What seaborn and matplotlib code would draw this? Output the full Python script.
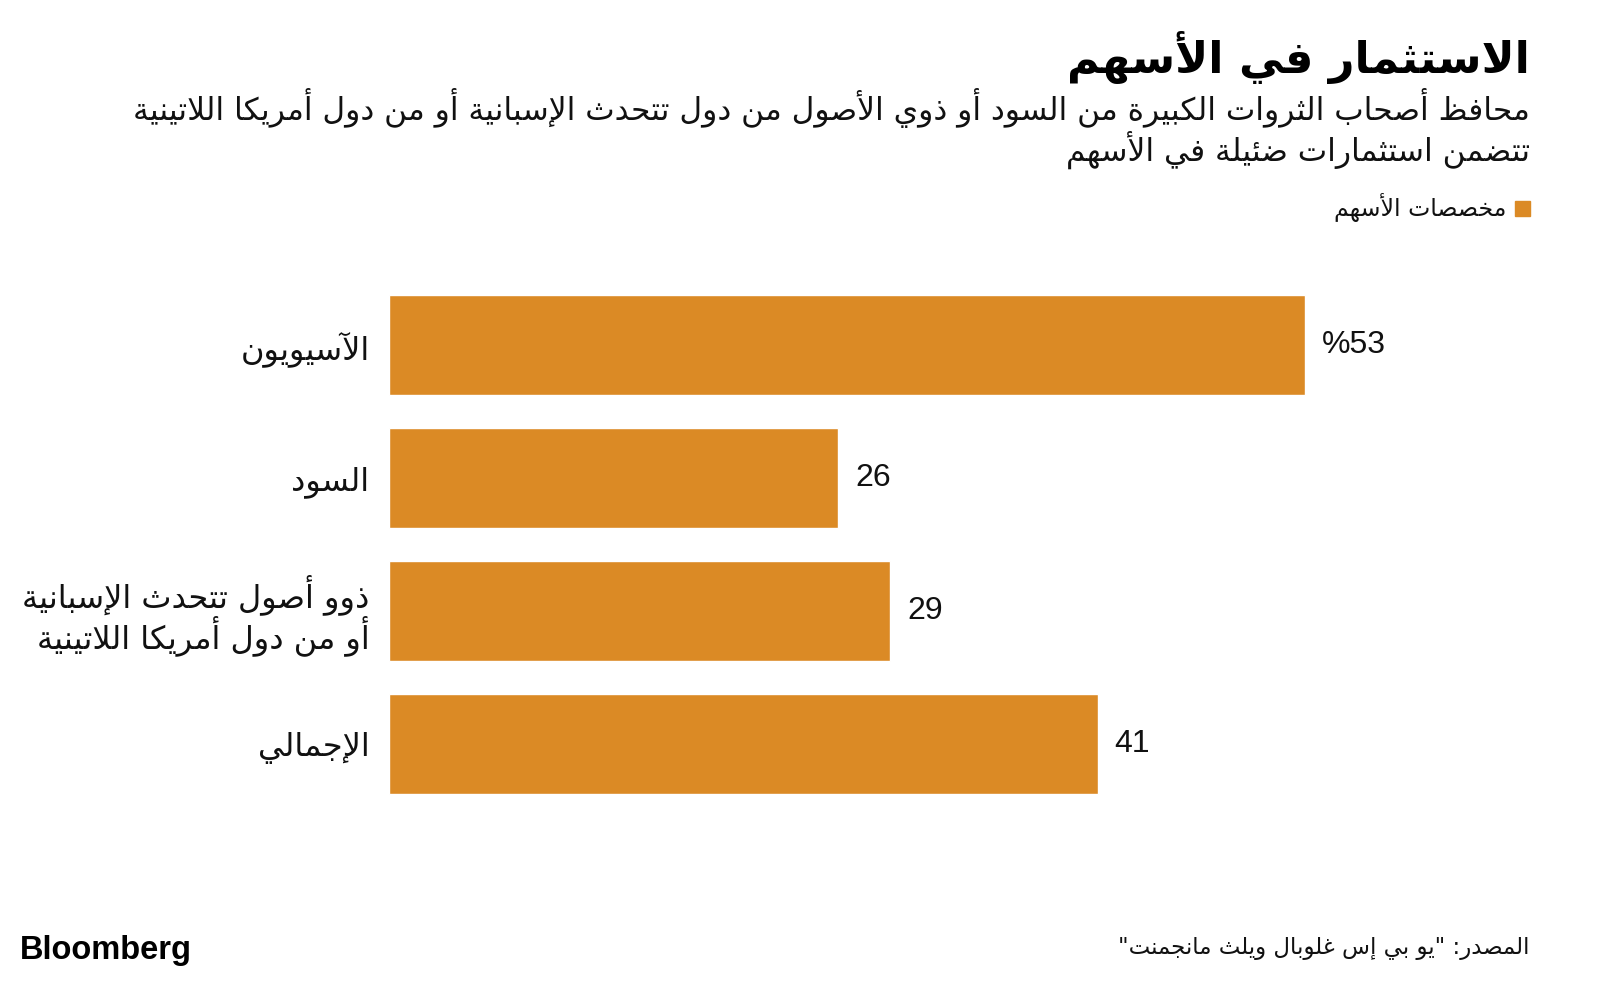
import pandas as pd
import seaborn as sns
import matplotlib.pyplot as plt

# data
categories = ['الآسيويون', 'السود', 'ذوو أصول تتحدث الإسبانية\nأو من دول أمريكا اللاتينية', 'الإجمالي']
values = [53, 26, 29, 41]
value_labels = ['%53', '26', '29', '41']

title = 'الاستثمار في الأسهم'
subtitle = ['محافظ أصحاب الثروات الكبيرة من السود أو ذوي الأصول من دول تتحدث الإسبانية أو من دول أمريكا اللاتينية',
            'تتضمن استثمارات ضئيلة في الأسهم']
legend_label = 'مخصصات الأسهم'
source = 'المصدر: "يو بي إس غلوبال ويلث مانجمنت"'

bar_color = '#DB8A25'

# matplotlib has no arabic shaping, so do it by hand with presentation forms
# letter -> (first presentation form, number of forms)
forms = {
    'ء': (0xFE80, 1), 'آ': (0xFE81, 2), 'أ': (0xFE83, 2), 'ؤ': (0xFE85, 2),
    'إ': (0xFE87, 2), 'ئ': (0xFE89, 4), 'ا': (0xFE8D, 2), 'ب': (0xFE8F, 4),
    'ة': (0xFE93, 2), 'ت': (0xFE95, 4), 'ث': (0xFE99, 4), 'ج': (0xFE9D, 4),
    'ح': (0xFEA1, 4), 'خ': (0xFEA5, 4), 'د': (0xFEA9, 2), 'ذ': (0xFEAB, 2),
    'ر': (0xFEAD, 2), 'ز': (0xFEAF, 2), 'س': (0xFEB1, 4), 'ش': (0xFEB5, 4),
    'ص': (0xFEB9, 4), 'ض': (0xFEBD, 4), 'ط': (0xFEC1, 4), 'ظ': (0xFEC5, 4),
    'ع': (0xFEC9, 4), 'غ': (0xFECD, 4), 'ف': (0xFED1, 4), 'ق': (0xFED5, 4),
    'ك': (0xFED9, 4), 'ل': (0xFEDD, 4), 'م': (0xFEE1, 4), 'ن': (0xFEE5, 4),
    'ه': (0xFEE9, 4), 'و': (0xFEED, 2), 'ى': (0xFEEF, 2), 'ي': (0xFEF1, 4),
}
lam_alef = {'آ': 0xFEF5, 'أ': 0xFEF7, 'إ': 0xFEF9, 'ا': 0xFEFB}


def shape_line(s):
    # group lam + alef into one token
    toks = []
    i = 0
    while i < len(s):
        if s[i] == 'ل' and i + 1 < len(s) and s[i + 1] in lam_alef:
            toks.append(('LA', lam_alef[s[i + 1]], 2))
            i += 2
        elif s[i] in forms:
            toks.append(('L', forms[s[i]][0], forms[s[i]][1]))
            i += 1
        else:
            toks.append(('X', s[i], 0))
            i += 1
    out = []
    for k, (kind, code, n) in enumerate(toks):
        if kind == 'X':
            out.append(code)
            continue
        prev_ok = k > 0 and toks[k - 1][0] != 'X' and toks[k - 1][2] == 4 and n > 1
        next_ok = n == 4 and k + 1 < len(toks) and toks[k + 1][0] != 'X' and toks[k + 1][2] > 1
        if prev_ok and next_ok:
            c = code + 3
        elif prev_ok:
            c = code + 1
        elif next_ok:
            c = code + 2
        else:
            c = code
        out.append(chr(c))
    return ''.join(out)[::-1]


def ar(s):
    return '\n'.join(shape_line(line) for line in s.split('\n'))


df = pd.DataFrame({'group': [ar(c) for c in categories], 'value': values})

sns.set_theme(style='white')
plt.rcParams['font.family'] = ['DejaVu Sans']

fig = plt.figure(figsize=(16, 9.98), dpi=100)
fig.patch.set_facecolor('white')
ax = fig.add_axes([389 / 1600, 1 - 810.5 / 998, 1037 / 1600, 532 / 998])

sns.barplot(data=df, x='value', y='group', color=bar_color, saturation=1,
            width=0.75, orient='h', ax=ax)
ax.set_xlim(0, 60)
ax.set_ylim(3.5, -0.5)
ax.bar_label(ax.containers[0], labels=value_labels, padding=12,
             fontsize=23, family='Liberation Sans', color='#111111')

ax.set_xlabel('')
ax.set_ylabel('')
ax.set_xticks([])
ax.tick_params(axis='y', length=0, pad=14, labelsize=23, labelcolor='#111111')
for lab in ax.get_yticklabels():
    lab.set_horizontalalignment('right')
    lab.set_linespacing(1.0)
for sp in ax.spines.values():
    sp.set_visible(False)

# header
fig.text(1530 / 1600, 1 - 57 / 998, ar(title), ha='right', va='center',
         fontsize=32, fontweight='heavy', color='#000000')
fig.text(1530 / 1600, 1 - 108 / 998, ar(subtitle[0]), ha='right', va='center',
         fontsize=22.5, color='#111111')
fig.text(1530 / 1600, 1 - 150 / 998, ar(subtitle[1]), ha='right', va='center',
         fontsize=22.5, color='#111111')

# legend
fig.patches.append(plt.Rectangle((1515 / 1600, 1 - 216 / 998), 15 / 1600, 15 / 998,
                                 transform=fig.transFigure, color=bar_color))
fig.text(1506 / 1600, 1 - 208 / 998, ar(legend_label), ha='right', va='center',
         fontsize=17, color='#111111')

# footer
fig.text(1530 / 1600, 1 - 948 / 998, ar(source), ha='right', va='center',
         fontsize=16.5, color='#111111')
fig.text(20 / 1600, 1 - 950 / 998, 'Bloomberg', ha='left', va='center',
         fontsize=23.5, fontweight='bold', family='Liberation Sans', color='#000000')

fig.savefig('out.png', dpi=100, facecolor='white')
